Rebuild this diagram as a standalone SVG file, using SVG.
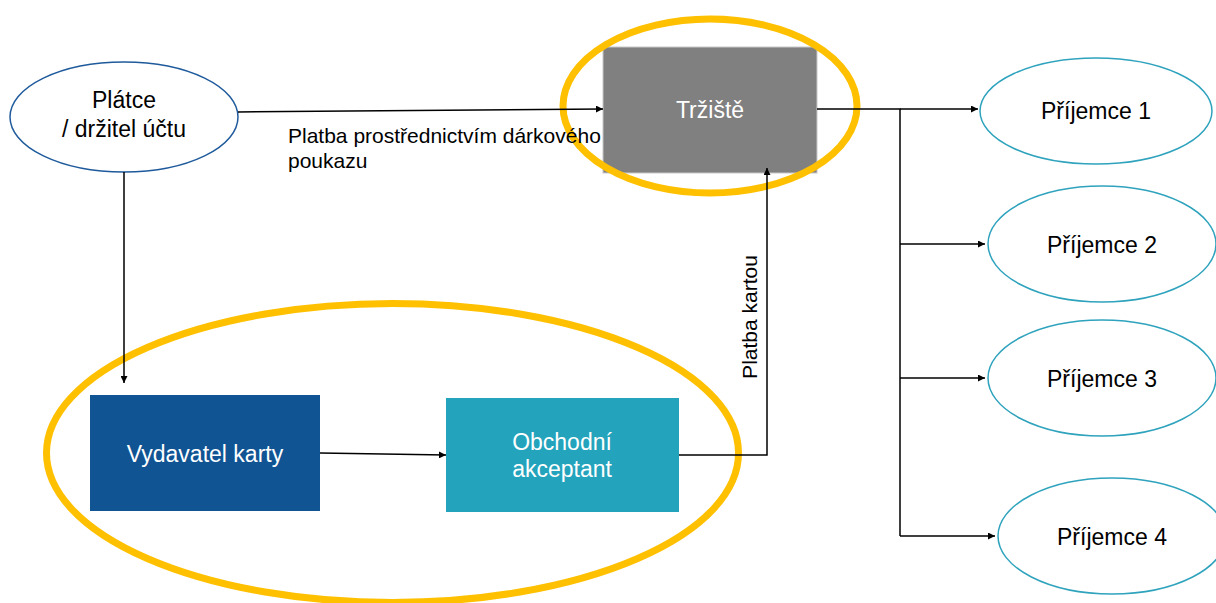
<svg xmlns="http://www.w3.org/2000/svg" width="1216" height="603" viewBox="0 0 1216 603">
<style>
text{font-family:"Liberation Sans",Arial,sans-serif;font-size:23px;text-anchor:middle}
.dark{fill:#000}
.white{fill:#fff}
.lbl{font-size:21px;text-anchor:start}
.ell{fill:#fff;stroke:#2fa3bd;stroke-width:1.5}
.hl{fill:none;stroke:#ffc000;stroke-width:7}
.con{fill:none;stroke:#000;stroke-width:1.5}
</style>
<defs>
<marker id="arr" viewBox="0 0 10 10" refX="10" refY="5" markerWidth="7" markerHeight="7" markerUnits="userSpaceOnUse" orient="auto">
<path d="M0,0 L10,5 L0,10 z" fill="#000"/>
</marker>
</defs>
<rect width="1216" height="603" fill="#fff"/>
<g id="node-platce">
<ellipse cx="124" cy="117" rx="114" ry="55" fill="#fff" stroke="#1f5b9c" stroke-width="1.5"/>
<text x="124" y="108" class="dark">Plátce</text>
<text x="124" y="137" class="dark">/ držitel účtu</text>
</g>
<g id="node-trziste">
<rect x="603" y="47" width="214" height="126" fill="#808080" stroke="#c8c8c8" stroke-width="1"/>
<text x="710" y="118" class="white">Tržiště</text>
</g>
<g id="node-vydavatel">
<rect x="90" y="395" width="230" height="116" fill="#105494"/>
<text x="205" y="462" class="white">Vydavatel karty</text>
</g>
<g id="node-obchodni">
<rect x="446" y="398" width="233" height="114" fill="#23a3bc"/>
<text x="562" y="450" class="white">Obchodní</text>
<text x="562" y="477" class="white">akceptant</text>
</g>
<g id="node-prijemce1">
<ellipse cx="1096" cy="111" rx="116" ry="53" class="ell"/>
<text x="1096" y="119" class="dark">Příjemce 1</text>
</g>
<g id="node-prijemce2">
<ellipse cx="1102" cy="244" rx="114" ry="58" class="ell"/>
<text x="1102" y="253" class="dark">Příjemce 2</text>
</g>
<g id="node-prijemce3">
<ellipse cx="1102" cy="378" rx="114" ry="58" class="ell"/>
<text x="1102" y="387" class="dark">Příjemce 3</text>
</g>
<g id="node-prijemce4">
<ellipse cx="1112" cy="536" rx="114" ry="58" class="ell"/>
<text x="1112" y="545" class="dark">Příjemce 4</text>
</g>
<g id="highlights">
<ellipse cx="710" cy="106" rx="147" ry="87" class="hl"/>
<ellipse cx="392.5" cy="453" rx="346" ry="149.5" class="hl"/>
</g>
<g id="connectors">
<line x1="238" y1="112" x2="603" y2="109" class="con" marker-end="url(#arr)"/>
<line x1="124" y1="172" x2="124" y2="383" class="con" marker-end="url(#arr)"/>
<line x1="320" y1="453" x2="446" y2="455" class="con" marker-end="url(#arr)"/>
<polyline points="679,455 767,455 767,168" class="con" marker-end="url(#arr)"/>
<polyline points="817,109 900,109 900,536" class="con"/>
<line x1="900" y1="109" x2="978" y2="109" class="con" marker-end="url(#arr)"/>
<line x1="900" y1="244" x2="985" y2="244" class="con" marker-end="url(#arr)"/>
<line x1="900" y1="378" x2="985" y2="378" class="con" marker-end="url(#arr)"/>
<line x1="900" y1="536" x2="995" y2="536" class="con" marker-end="url(#arr)"/>
<text x="288" y="143" class="dark lbl">Platba prostřednictvím dárkového</text>
<text x="288" y="168" class="dark lbl">poukazu</text>
<text transform="translate(757,317) rotate(-90)" x="0" y="0" class="dark" style="font-size:21px">Platba kartou</text>
</g>
</svg>
